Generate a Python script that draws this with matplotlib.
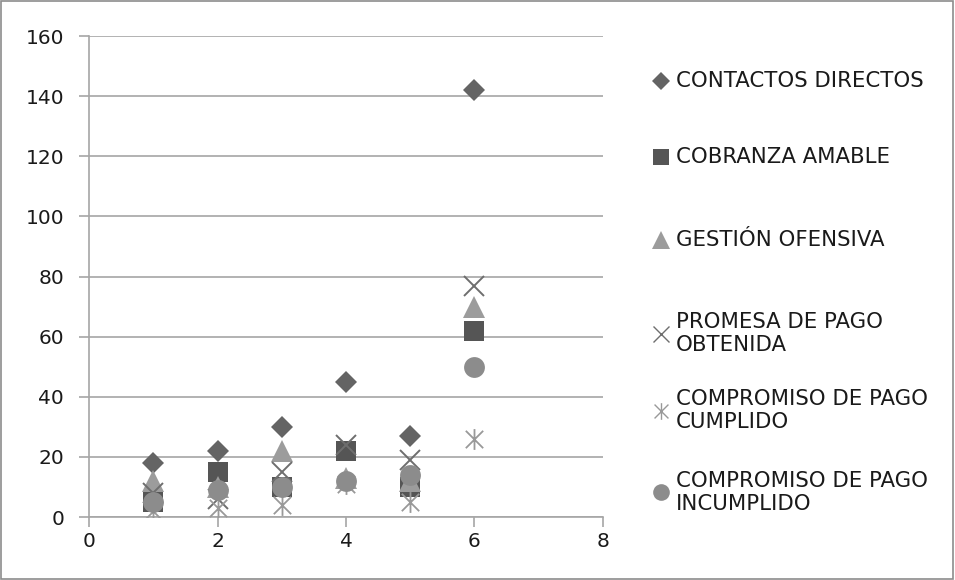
import matplotlib
matplotlib.use("Agg")
import matplotlib.pyplot as plt
from matplotlib.lines import Line2D
from matplotlib.patches import Rectangle
from matplotlib.path import Path

plt.rcParams['font.family'] = ['DejaVu Sans']

x = [1, 2, 3, 4, 5, 6]
contactos = [18, 22, 30, 45, 27, 142]
cobranza = [5, 15, 10, 22, 10, 62]
gestion = [12, 10, 22, 13, 12, 70]
promesa = [8, 6, 15, 24, 19, 77]
cumplido = [2, 3, 4, 11, 5, 26]
incumplido = [5, 9, 10, 12, 14, 50]

labels = ['CONTACTOS DIRECTOS', 'COBRANZA AMABLE', 'GESTIÓN OFENSIVA',
          'PROMESA DE PAGO\nOBTENIDA', 'COMPROMISO DE PAGO\nCUMPLIDO',
          'COMPROMISO DE PAGO\nINCUMPLIDO']
series = [contactos, cobranza, gestion, promesa, cumplido, incumplido]

# star = an x with a vertical bar through it
star = Path([(-1, -1), (1, 1), (-1, 1), (1, -1), (0, -1.2), (0, 1.2)],
            [Path.MOVETO, Path.LINETO] * 3)

# marker, colour, size, line width (0 = filled)
styles = [
    ('D', '#646464', 11, 0),
    ('s', '#555555', 15, 0),
    ('^', '#9c9c9c', 16, 0),
    ('x', '#6e6e6e', 15, 1.4),
    (star, '#999999', 15, 1.3),
    ('o', '#8c8c8c', 15, 0),
]

fig = plt.figure(figsize=(9.55, 5.8), dpi=100)
ax = fig.add_axes([0.0932, 0.1086, 0.5382, 0.8293])

for ys, (m, c, s, lw) in zip(series, styles):
    ax.plot(x, ys, linestyle='none', marker=m, markersize=s,
            color=c, markeredgewidth=lw, zorder=3)

ax.set_xlim(0, 8)
ax.set_ylim(0, 160)
ax.set_xticks(range(0, 9, 2))
ax.set_yticks(range(0, 161, 20))
ax.grid(axis='y', color='#a6a6a6', linewidth=1.2)
ax.set_axisbelow(True)
for side in ['top', 'right']:
    ax.spines[side].set_visible(False)
for side in ['left', 'bottom']:
    ax.spines[side].set_color('#a6a6a6')
    ax.spines[side].set_linewidth(1.2)
ax.tick_params(colors='#a6a6a6', labelcolor='#1a1a1a', labelsize=14.5,
               length=7, width=1.2)
ax.tick_params(axis='y', pad=11)
ax.tick_params(axis='x', pad=4)

# legend drawn beside the plot
leg_y = [0.860, 0.729, 0.586, 0.425, 0.292, 0.151]
for lab, (m, c, s, lw), ly in zip(labels, styles, leg_y):
    fig.add_artist(Line2D([0.6918], [ly], marker=m, color=c,
                          markersize=s * 0.8,
                          markeredgewidth=(1.0 if lw else 0),
                          linestyle='none', transform=fig.transFigure))
    fig.text(0.708, ly, lab, fontsize=15.3, va='center', ha='left',
             linespacing=1.15, color='#1a1a1a')

fig.add_artist(Rectangle((0.001, 0.002), 0.997, 0.996, fill=False,
                         edgecolor='#8c8c8c', linewidth=1.2,
                         transform=fig.transFigure))

fig.savefig('out.png', dpi=100)
